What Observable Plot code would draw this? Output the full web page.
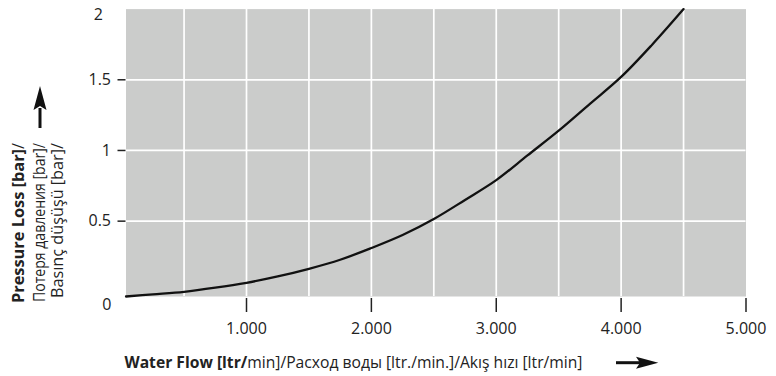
<!DOCTYPE html>
<html><head><meta charset="utf-8">
<script src="https://cdn.jsdelivr.net/npm/d3@7"></script>
<script src="https://cdn.jsdelivr.net/npm/@observablehq/plot@0.6"></script>
<style>body{margin:0;background:#fff} svg{display:block}</style>
</head><body><div id="chart"></div>
<script>
// Water flow [ltr/min] and pressure loss [bar]
const flow = [35, 250, 500, 750, 1000, 1250, 1500, 1750, 2000, 2250, 2500, 2750, 3000, 3250, 3500, 3750, 4000, 4250, 4500];
const loss = [-0.033, -0.018, 0.0, 0.029, 0.064, 0.109, 0.163, 0.227, 0.31, 0.402, 0.515, 0.65, 0.79, 0.965, 1.14, 1.33, 1.52, 1.75, 2.0];
const xGrid = [500, 1000, 1500, 2000, 2500, 3000, 3500, 4000, 4500];
const yGrid = [0.5, 1, 1.5];
const xTicks = [1000, 2000, 3000, 4000, 5000];
const yTicks = [0.5, 1, 1.5];
const yTop = [2];
const yBottom = [0];
const xTitleBold = "Water Flow [ltr/";
const xTitleRest = "min]/Расход воды [ltr./min.]/Akış hızı [ltr/min]";
const yTitleLines = ["Pressure Loss [bar]", "Потеря давления [bar]/", "Basınç düşüşü [bar]/"];

const rows = flow.map((f, i) => ({flow: f, loss: loss[i]}));
const fmt = d => d3.format(",")(d).replace(/,/g, ".");
const font = "'Open Sans', 'DejaVu Sans', sans-serif";

const chart = Plot.plot({
  width: 776, height: 376,
  marginLeft: 125.5, marginRight: 30.5, marginTop: 8.6, marginBottom: 80,
  style: {fontFamily: font, fontSize: "16px", color: "#222", background: "#fff"},
  x: {domain: [35, 5000]},
  y: {domain: [-0.033, 2]},
  marks: [
    Plot.frame({fill: "#cbcccb", stroke: null}),
    Plot.ruleX(xGrid, {stroke: "#fff", strokeWidth: 1.7}),
    Plot.ruleY(yGrid, {stroke: "#fff", strokeWidth: 1.7}),
    Plot.line(rows, {x: "flow", y: "loss", stroke: "#111", strokeWidth: 2.3, curve: "catmull-rom"}),
    Plot.axisX(xTicks, {tickSize: 14, dy: 2, tickPadding: 10, tickFormat: fmt, strokeWidth: 1.5, label: null}),
    Plot.axisY(yTicks, {tickSize: 8, tickPadding: 7, tickFormat: d => String(d), strokeWidth: 1.5, label: null}),
    Plot.text(yTop, {y: d => d, text: d => String(d), frameAnchor: "left", textAnchor: "end", dx: -23, dy: 6, fontSize: 16}),
    Plot.text(yBottom, {y: d => d, text: d => String(d), frameAnchor: "left", textAnchor: "end", dx: -14.5, dy: 13, fontSize: 16})
  ]
});
document.getElementById("chart").append(chart);

const svg = d3.select(chart);
// x title
const xt = svg.append("text").attr("x", 124.5).attr("y", 367.5)
  .attr("text-anchor", "start")
  .attr("textLength", 458).attr("lengthAdjust", "spacingAndGlyphs")
  .attr("font-family", font).attr("font-size", 15.5).attr("fill", "#222");
xt.append("tspan").attr("font-weight", "bold").text(xTitleBold);
xt.append("tspan").text(xTitleRest);
// y title (rotated)
const baselines = [24, 44.5, 63];
const lengths = [160, 159, 155];
yTitleLines.forEach((t, i) => {
  const g = svg.append("text")
    .attr("transform", `translate(${baselines[i]},143) rotate(-90)`)
    .attr("text-anchor", "end")
    .attr("textLength", lengths[i]).attr("lengthAdjust", "spacingAndGlyphs")
    .attr("font-family", font).attr("font-size", 15.5).attr("fill", "#222");
  if (i === 0) {
    g.append("tspan").attr("font-weight", "bold").text(t);
    g.append("tspan").text("/");
  } else g.text(t);
});
// arrows
svg.append("path").attr("d", "M40,128 L40,108").attr("stroke", "#111").attr("stroke-width", 3);
svg.append("path").attr("d", "M40,86 L46.5,110 L40,106 L33.5,110 Z").attr("fill", "#111");
svg.append("path").attr("d", "M616,362.7 L640,362.7").attr("stroke", "#111").attr("stroke-width", 3);
svg.append("path").attr("d", "M658.3,362.7 L636,356.7 L640,362.7 L636,368.7 Z").attr("fill", "#111");
</script>
</body></html>
